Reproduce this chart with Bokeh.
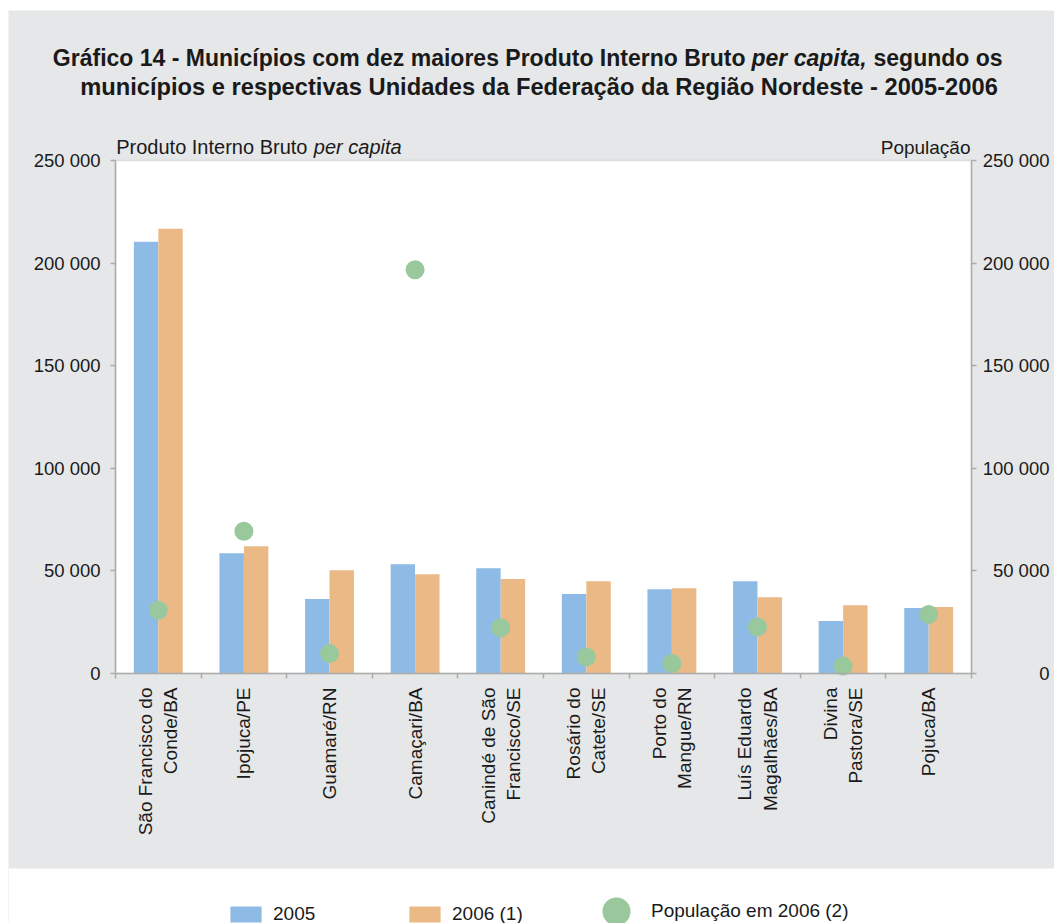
import math
import numpy as np
from bokeh.plotting import figure
from bokeh.models import (Range1d, LinearAxis, FixedTicker, Label, LabelSet, BoxAnnotation,
                          ColumnDataSource, Legend, LegendItem)
from bokeh.core.properties import value
from bokeh.embed import file_html
from bokeh.resources import INLINE

# ---------------- data ----------------
municipios = ["São Francisco do\nConde/BA", "Ipojuca/PE", "Guamaré/RN", "Camaçari/BA",
              "Canindé de São\nFrancisco/SE", "Rosário do\nCatete/SE", "Porto do\nMangue/RN",
              "Luís Eduardo\nMagalhães/BA", "Divina\nPastora/SE", "Pojuca/BA"]
pib_2005 = [210400, 58600, 36300, 53200, 51300, 38700, 41100, 45000, 25600, 31900]
pib_2006 = [216800, 62000, 50300, 48400, 46000, 45000, 41600, 37200, 33300, 32400]
pop_2006 = [30800, 69300, 9700, 196800, 22300, 8100, 4900, 22700, 3600, 28800]
y_ticks = [0, 50000, 100000, 150000, 200000, 250000]
y_tick_labels = ["0", "50 000", "100 000", "150 000", "200 000", "250 000"]
series_labels = ["2005", "2006 (1)", "População em 2006 (2)"]

BLUE = "#8DBBE5"
ORANGE = "#EBB985"
GREEN = "#99C89C"
BG = "#E6E7E8"
AXIS = "#ABABAB"
TXT = "#1a1a1a"
FONT = "Liberation Sans"

n = len(municipios)
centers = np.arange(n) + 0.5
bounds = list(range(n + 1))
YMAX = y_ticks[-1]

# ---------------- layout (pixels) ----------------
W, H = 1046, 913          # canvas, placed at page (8, 10)
PX_X0, PX_X1 = 107, 963   # canvas x of category 0 and n
PX_Y0, PX_Y1 = 250, 763   # canvas y (from bottom) of value 0 and YMAX
sx = (PX_X1 - PX_X0) / n
sy = (PX_Y1 - PX_Y0) / YMAX
x_range = Range1d(-PX_X0 / sx, n + (W - PX_X1) / sx)
y_range = Range1d(-PX_Y0 / sy, YMAX + (H - PX_Y1) / sy)

p = figure(width=W, height=H, x_range=x_range, y_range=y_range,
           output_backend="svg", toolbar_location=None, title=None,
           x_axis_location=None, y_axis_location=None,
           min_border_left=0, min_border_right=0, min_border_top=0, min_border_bottom=0,
           margin=(10, 0, 0, 8))
p.extra_y_ranges = {"pop": Range1d(y_range.start, y_range.end)}
p.background_fill_color = BG
p.border_fill_color = BG
p.outline_line_color = None
p.grid.visible = False

# white strip at the bottom (legend area) and white plotting area
p.add_layout(BoxAnnotation(left=0, right=W, bottom=0, top=55, left_units="screen",
                           right_units="screen", top_units="screen", bottom_units="screen",
                           fill_color="white", fill_alpha=1, line_color=None, level="underlay"))
p.add_layout(BoxAnnotation(left=0, right=n, bottom=0, top=YMAX, fill_color="white",
                           fill_alpha=1, line_color=AXIS, line_width=1.5, level="underlay"))

src = ColumnDataSource(dict(x=centers, p05=pib_2005, p06=pib_2006, pop=pop_2006))
off = 0.143
bw = 0.285
r05 = p.vbar(x=centers - off, top=pib_2005, width=bw, fill_color=BLUE, line_color=None)
r06 = p.vbar(x=centers + off, top=pib_2006, width=bw, fill_color=ORANGE, line_color=None)
rpop = p.scatter(x="x", y="pop", source=src, size=19, fill_color=GREEN, line_color=None,
                 y_range_name="pop")

def style_axis(ax):
    ax.axis_line_color = AXIS
    ax.axis_line_width = 1.5
    ax.major_tick_line_color = AXIS
    ax.minor_tick_line_color = AXIS
    ax.major_tick_line_width = 1.5
    ax.minor_tick_line_width = 1.5
    ax.major_label_text_font = FONT
    ax.major_label_text_color = TXT

yl = LinearAxis(ticker=FixedTicker(ticks=y_ticks, minor_ticks=[]), fixed_location=0,
                bounds=(0, YMAX), major_label_overrides=dict(zip(y_ticks, y_tick_labels)))
style_axis(yl)
yl.major_tick_out = 5
yl.major_tick_in = 0
yl.major_label_standoff = 10
yl.major_label_text_font_size = "18.5px"
p.add_layout(yl, "left")

yr = LinearAxis(y_range_name="pop", ticker=FixedTicker(ticks=y_ticks, minor_ticks=[]),
                fixed_location=n, bounds=(0, YMAX),
                major_label_overrides={t: "" for t in y_ticks})
style_axis(yr)
yr.major_tick_out = 5
yr.major_tick_in = 0
p.add_layout(yr, "right")

rsrc = ColumnDataSource(dict(y=y_ticks, text=y_tick_labels))
p.add_layout(LabelSet(x=1041, y="y", text="text", source=rsrc, x_units="screen",
                      y_range_name="pop", text_align="right", text_baseline="middle",
                      text_font=value(FONT), text_font_size=value("18.5px"),
                      text_color=TXT))

xb = LinearAxis(ticker=FixedTicker(ticks=list(centers), minor_ticks=bounds),
                fixed_location=0, bounds=(0, n),
                major_label_overrides={float(c): m for c, m in zip(centers, municipios)})
style_axis(xb)
xb.major_tick_out = 0
xb.major_tick_in = 0
xb.minor_tick_out = 5
xb.minor_tick_in = 0
xb.major_label_orientation = math.pi / 2
xb.major_label_standoff = 9
xb.major_label_text_font_size = "19px"
p.add_layout(xb, "below")

# texts (screen px from the canvas' bottom-left corner)
def lab(text, x, y, size, align="left", style="normal"):
    p.add_layout(Label(x=x, y=y, x_units="screen", y_units="screen", text=text,
                       text_font=FONT, text_font_size=size, text_font_style=style,
                       text_align=align, text_baseline="alphabetic", text_color=TXT))

lab("Gráfico 14 - Municípios com dez maiores Produto Interno Bruto", 737, 866, "23px", "right", "bold")
lab("per capita,", 743, 866, "23px", "left", "bold italic")
lab("segundo os", 865, 866, "23px", "left", "bold")
lab("municípios e respectivas Unidades da Federação da Região Nordeste - 2005-2006",
    530.5, 837, "23.7px", "center", "bold")
lab("Produto Interno Bruto", 107.7, 777, "20px", "left")
lab("per capita", 305.3, 777, "20px", "left", "italic")
lab("População", 962, 776, "19px", "right")

# legend
def add_legend(r, label, loc, gw, gh, standoff, lh):
    lg = Legend(items=[LegendItem(label=label, renderers=[r])], location=loc,
                glyph_width=gw, glyph_height=gh, label_standoff=standoff,
                label_height=lh, padding=0, margin=0, spacing=0, border_line_color=None,
                background_fill_alpha=0, label_text_font=FONT,
                label_text_font_size="19px", label_text_color=TXT)
    p.add_layout(lg, "center")

add_legend(r05, series_labels[0], (218, -2), 39, 20, 8, 20)
add_legend(r06, series_labels[1], (397, -2), 39, 20, 8, 20)
add_legend(rpop, series_labels[2], (573, -23), 70, 70, 0, 20)

open("out.html", "w").write(file_html(p, INLINE))
